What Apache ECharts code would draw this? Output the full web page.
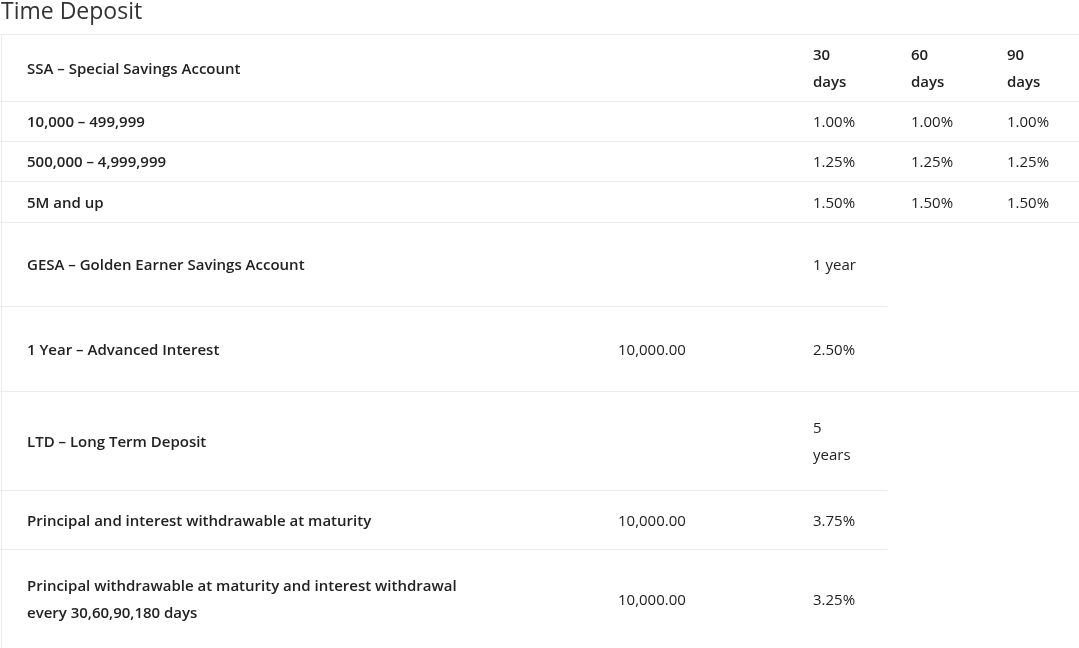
<!DOCTYPE html>
<html><head><meta charset="utf-8">
<script src="https://cdn.jsdelivr.net/npm/echarts@6/dist/echarts.min.js"></script>
<style>html,body{margin:0;padding:0;background:#fff}#c{width:1079px;height:648px}</style>
</head><body><div id="c"></div>
<script>
const title = "Time Deposit";
const rowLabels = [
  ["SSA – Special Savings Account"],
  ["10,000 – 499,999"],
  ["500,000 – 4,999,999"],
  ["5M and up"],
  ["GESA – Golden Earner Savings Account"],
  ["1 Year – Advanced Interest"],
  ["LTD – Long Term Deposit"],
  ["Principal and interest withdrawable at maturity"],
  ["Principal withdrawable at maturity and interest withdrawal", "every 30,60,90,180 days"]
];
const amounts = ["", "", "", "", "", "10,000.00", "", "10,000.00", "10,000.00"];
const col1 = [["30","days"], ["1.00%"], ["1.25%"], ["1.50%"], ["1 year"], ["2.50%"], ["5","years"], ["3.75%"], ["3.25%"]];
const col2 = [["60","days"], ["1.00%"], ["1.25%"], ["1.50%"], [], [], [], [], []];
const col3 = [["90","days"], ["1.00%"], ["1.25%"], ["1.50%"], [], [], [], [], []];
const headerRows = [0, 4, 6];

// layout
const rowTops = [34, 101, 141, 181, 222, 306, 391, 490, 549, 648];
const lineRight = [1079, 1079, 1079, 1079, 887, 1079, 887, 887, 887];
const X = {label: 27, amount: 618, c1: 813, c2: 911, c3: 1007};
const LH = 27;
const FAM = '"Open Sans", "Noto Sans", sans-serif';

const g = [];
g.push({type:'text', left: 1, top: 1, style:{text:title, font:'400 23px '+FAM, fill:'#333'}});
g.push({type:'line', shape:{x1:0,y1:rowTops[0]+0.5,x2:1079,y2:rowTops[0]+0.5}, style:{stroke:'#ececec',lineWidth:1}});
g.push({type:'line', shape:{x1:1.5,y1:rowTops[0],x2:1.5,y2:648}, style:{stroke:'#ececec',lineWidth:1}});
function multi(x, lines, cy, bold){
  const n = lines.length;
  lines.forEach((t,i)=>{
    g.push({type:'text', x:x, y: cy + 2 + (i-(n-1)/2)*LH, style:{text:t, font:(bold?'600 ':'400 ')+'15px '+FAM, fill:'#222', verticalAlign:'middle', align:'left'}});
  });
}
rowLabels.forEach((lab,i)=>{
  const cy = (rowTops[i]+rowTops[i+1])/2;
  multi(X.label, lab, cy, true);
  if (amounts[i]) multi(X.amount, [amounts[i]], cy, false);
  const hb = headerRows.indexOf(i)===0;
  if (col1[i].length) multi(X.c1, col1[i], cy, hb);
  if (col2[i].length) multi(X.c2, col2[i], cy, hb);
  if (col3[i].length) multi(X.c3, col3[i], cy, hb);
  if (i < rowLabels.length-1)
    g.push({type:'line', shape:{x1:0,y1:rowTops[i+1]+0.5,x2:lineRight[i],y2:rowTops[i+1]+0.5}, style:{stroke:'#ececec',lineWidth:1}});
});
const chart = echarts.init(document.getElementById('c'));
chart.setOption({animation:false, graphic: g});
</script></body></html>
